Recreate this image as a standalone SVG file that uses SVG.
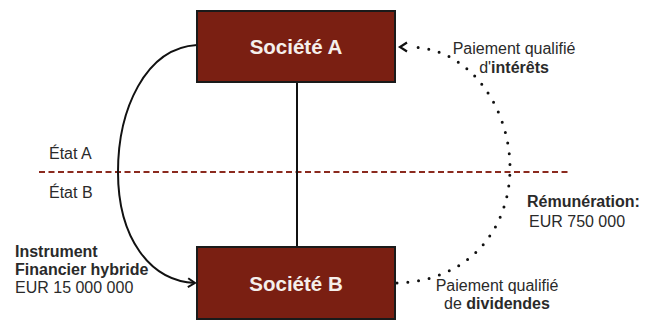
<svg xmlns="http://www.w3.org/2000/svg" width="655" height="323" viewBox="0 0 655 323">
<style>
.box{fill:#7a1f12;stroke:#1a1a1a;stroke-width:2}
.title{font-family:"Liberation Sans",Arial,sans-serif;font-size:20.5px;font-weight:bold;fill:#f5efec;text-anchor:middle}
.lbl{font-family:"Liberation Sans",Arial,sans-serif;font-size:16px;fill:#2a2a2a}
.b{font-weight:bold}
.solid{fill:none;stroke:#111;stroke-width:2}
.dot{fill:none;stroke:#111;stroke-width:3;stroke-linecap:round;stroke-dasharray:0 10.8}
</style>
<defs>
<marker id="chev" markerWidth="12" markerHeight="12" refX="9" refY="6" orient="auto" markerUnits="userSpaceOnUse">
<path d="M2,1.5 L9,6 L2,10.5" fill="none" stroke="#111" stroke-width="2" stroke-linejoin="miter"/>
</marker>
</defs>
<g id="border-line">
<line x1="39" y1="172" x2="571" y2="172" stroke="#8b2a1e" stroke-width="2" stroke-dasharray="6 3.5"/>
</g>
<g id="connectors">
<line class="solid" x1="297" y1="82" x2="297" y2="247"/>
<path class="solid" d="M197,45 C145,48 118,110 118,172 C118,238 150,281 195,283" marker-end="url(#chev)"/>
<path class="dot" d="M397,283 C470,281 510,228 510,168 C510,108 470,48 411,47"/>
<path d="M407,42.5 L400,47 L407,51.5" fill="none" stroke="#111" stroke-width="2.2"/>
</g>
<g id="societe-a">
<rect class="box" x="197" y="11" width="198" height="71"/>
<text class="title" x="296" y="54">Société A</text>
</g>
<g id="societe-b">
<rect class="box" x="197" y="247" width="198" height="72"/>
<text class="title" x="296" y="291">Société B</text>
</g>
<g id="labels">
<text class="lbl" x="49" y="159">État A</text>
<text class="lbl" x="49" y="198">État B</text>
<text class="lbl b" x="15" y="257">Instrument</text>
<text class="lbl b" x="15" y="275">Financier hybride</text>
<text class="lbl" x="15" y="293">EUR 15 000 000</text>
<text class="lbl" x="514" y="54" text-anchor="middle">Paiement qualifié</text>
<text class="lbl" x="514" y="73" text-anchor="middle">d'<tspan class="b">intérêts</tspan></text>
<text class="lbl b" x="527" y="207">Rémunération:</text>
<text class="lbl" x="529" y="227">EUR 750 000</text>
<text class="lbl" x="497" y="291" text-anchor="middle">Paiement qualifié</text>
<text class="lbl" x="497" y="309" text-anchor="middle">de <tspan class="b">dividendes</tspan></text>
</g>
</svg>
